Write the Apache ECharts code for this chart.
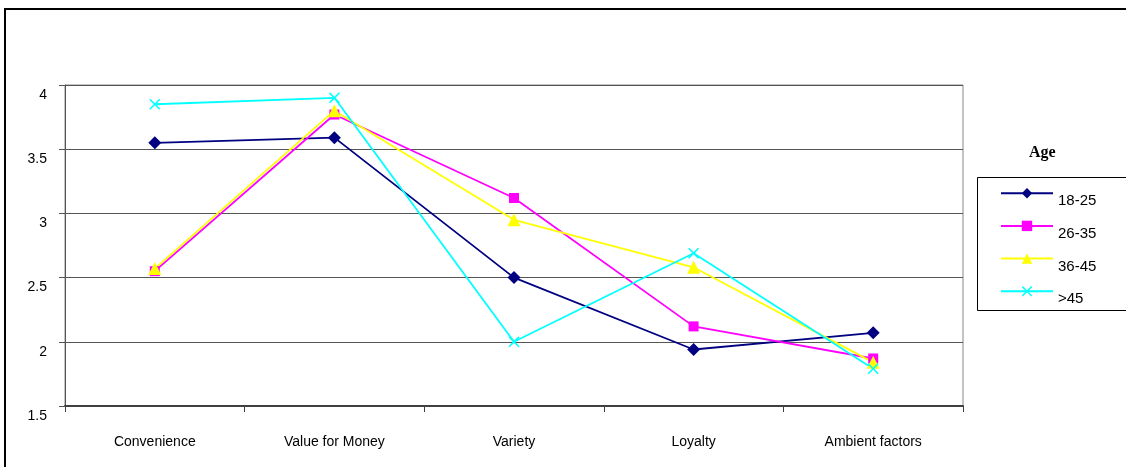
<!DOCTYPE html>
<html>
<head>
<meta charset="utf-8">
<script src="https://cdn.jsdelivr.net/npm/echarts@6/dist/echarts.min.js"></script>
<style>
  html, body { margin: 0; padding: 0; background: #fff; }
  #chart { width: 1126px; height: 467px; }
</style>
</head>
<body>
<div id="chart"></div>
<script>
// categories and age-group scores
const categories = ['Convenience', 'Value for Money', 'Variety', 'Loyalty', 'Ambient factors'];
const age18to25 = [3.55, 3.59, 2.50, 1.94, 2.07];
const age26to35 = [2.55, 3.77, 3.12, 2.12, 1.87];
const age36to45 = [2.57, 3.80, 2.95, 2.58, 1.84];
const ageOver45 = [3.85, 3.90, 2.00, 2.69, 1.79];
const yTicks = { min: 1.5, max: 4, step: 0.5 };

const crossPath = 'path://M0,1L1,0L5,4L9,0L10,1L6,5L10,9L9,10L5,6L1,10L0,9L4,5Z';
const font = 'Liberation Sans, Arial, sans-serif';

function line(name, data, color, symbol, size) {
  return {
    name: name,
    type: 'line',
    data: data,
    symbol: symbol,
    symbolSize: size,
    lineStyle: { color: color, width: 1.8 },
    itemStyle: { color: color },
    emphasis: { disabled: true },
    animation: false
  };
}

const chart = echarts.init(document.getElementById('chart'));
chart.setOption({
  backgroundColor: '#fff',
  textStyle: { fontFamily: font },
  graphic: [
    {
      type: 'rect',
      shape: { x: 5, y: 9, width: 1130, height: 470 },
      style: { fill: 'none', stroke: '#000', lineWidth: 2 },
      z: 100
    },
    {
      type: 'rect',
      shape: { x: 977.5, y: 177.5, width: 160, height: 133 },
      style: { fill: '#fff', stroke: '#000', lineWidth: 1 },
      z: 1
    },
    {
      type: 'text',
      left: 1029,
      top: 145,
      style: {
        text: 'Age',
        font: 'bold 16px "Liberation Serif", "Times New Roman", serif',
        fill: '#000'
      }
    }
  ],
  grid: {
    left: 65, right: 163, top: 85, bottom: 61,
    show: true, borderColor: '#888', borderWidth: 1,
    containLabel: false
  },
  legend: {
    orient: 'vertical',
    left: 995,
    top: 183,
    itemWidth: 52,
    itemHeight: 13,
    itemGap: 12,
    z: 5,
    formatter: '{t|{name}}',
    textStyle: {
      color: '#000',
      rich: { t: { fontSize: 15, color: '#000', fontFamily: font, padding: [16, 0, 0, 0] } }
    },
    data: ['18-25', '26-35', '36-45', '>45']
  },
  xAxis: {
    type: 'category',
    data: categories,
    boundaryGap: true,
    axisLine: { lineStyle: { color: '#404040', width: 2 } },
    axisTick: { show: true, inside: false, length: 6, interval: 0, lineStyle: { color: '#404040' } },
    axisLabel: { color: '#000', fontSize: 14, margin: 29, interval: 0, fontFamily: font },
    splitLine: { show: false }
  },
  yAxis: {
    type: 'value',
    min: yTicks.min,
    max: yTicks.max,
    interval: yTicks.step,
    axisLine: { show: true, lineStyle: { color: '#555', width: 1 } },
    axisTick: { show: true, length: 6, lineStyle: { color: '#555' } },
    axisLabel: {
      color: '#000', fontSize: 14, margin: 18, fontFamily: font,
      verticalAlign: 'top', padding: [3, 0, 0, 0]
    },
    splitLine: { show: true, lineStyle: { color: '#555', width: 1 } }
  },
  series: [
    line('18-25', age18to25, '#000080', 'diamond', 13),
    line('26-35', age26to35, '#ff00ff', 'rect', 10),
    line('36-45', age36to45, '#ffff00', 'triangle', 13),
    line('>45', ageOver45, '#00ffff', crossPath, 11)
  ]
});
</script>
</body>
</html>
